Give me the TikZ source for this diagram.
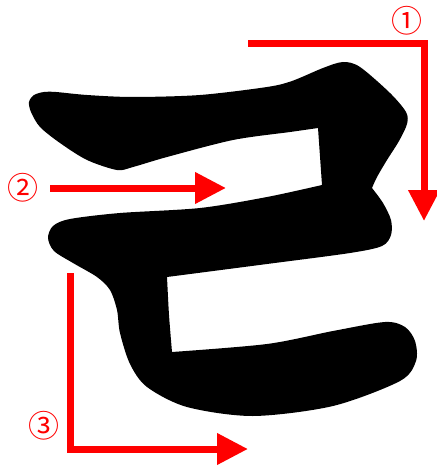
\documentclass[tikz,border=0pt]{standalone}
\usepackage{fontspec}
\usepackage{xcolor}
\usepackage{tikz}
\usetikzlibrary{arrows.meta, positioning}
\newfontfamily\circfont{Noto Sans CJK SC}
\definecolor{orderred}{RGB}{255, 0, 0}

\begin{document}
\begin{tikzpicture}[x=1pt, y=-1pt,
    orderarrow/.style={orderred, line width=7pt, -{Triangle[length=31pt, width=30pt]}},
    ordernum/.style={text=orderred, font=\circfont\fontsize{31}{31}\selectfont, inner sep=0pt}]

    \useasboundingbox (0, 0) rectangle (436, 468);

    % Glyph outline
    \fill[black]
        plot[smooth] coordinates {(318, 128) (290, 132) (233, 140) (167, 157) (133, 167) (117, 170)
            (87, 160) (60, 143) (40, 127) (31, 112) (29, 102) (34, 95) (44, 92) (56, 92) (87, 95)
            (133, 97) (200, 95) (267, 87) (292, 81) (323, 68) (343, 62) (360, 67) (390, 93)
            (406, 112) (407, 124) (399, 141) (387, 160) (377, 177) (372, 188)}
        -- plot[smooth] coordinates {(372, 188) (383, 203) (391, 220) (391, 235) (382, 246)
            (350, 253) (267, 264) (167, 277)}
        -- plot[smooth] coordinates {(167, 277) (169, 315) (172, 352)}
        -- plot[smooth] coordinates {(172, 352) (267, 344) (333, 331) (385, 322) (405, 327)
            (415, 341) (416, 361) (400, 381) (333, 406) (253, 416) (187, 407) (147, 387)
            (130, 364) (120, 333) (117, 310) (110, 290) (97, 277) (73, 263) (54, 251) (48, 238)
            (53, 226) (70, 219) (120, 213) (200, 208) (267, 197) (322, 185)}
        -- cycle;

    % Stroke order
    \coordinate (a1) at (248, 44);
    \coordinate (b1) at (424, 221);
    \draw[orderarrow] (a1) -| (b1);
    \node[ordernum] (n1) at (407, 21) {①};

    \coordinate (a2) at (50, 188);
    \coordinate (b2) at (226, 188);
    \draw[orderarrow] (a2) -- (b2);
    \node[ordernum] (n2) at (23, 188) {②};

    \coordinate (a3) at (70, 273);
    \coordinate (b3) at (248, 449);
    \draw[orderarrow] (a3) |- (b3);
    \node[ordernum] (n3) at (44, 426) {③};

\end{tikzpicture}
\end{document}
